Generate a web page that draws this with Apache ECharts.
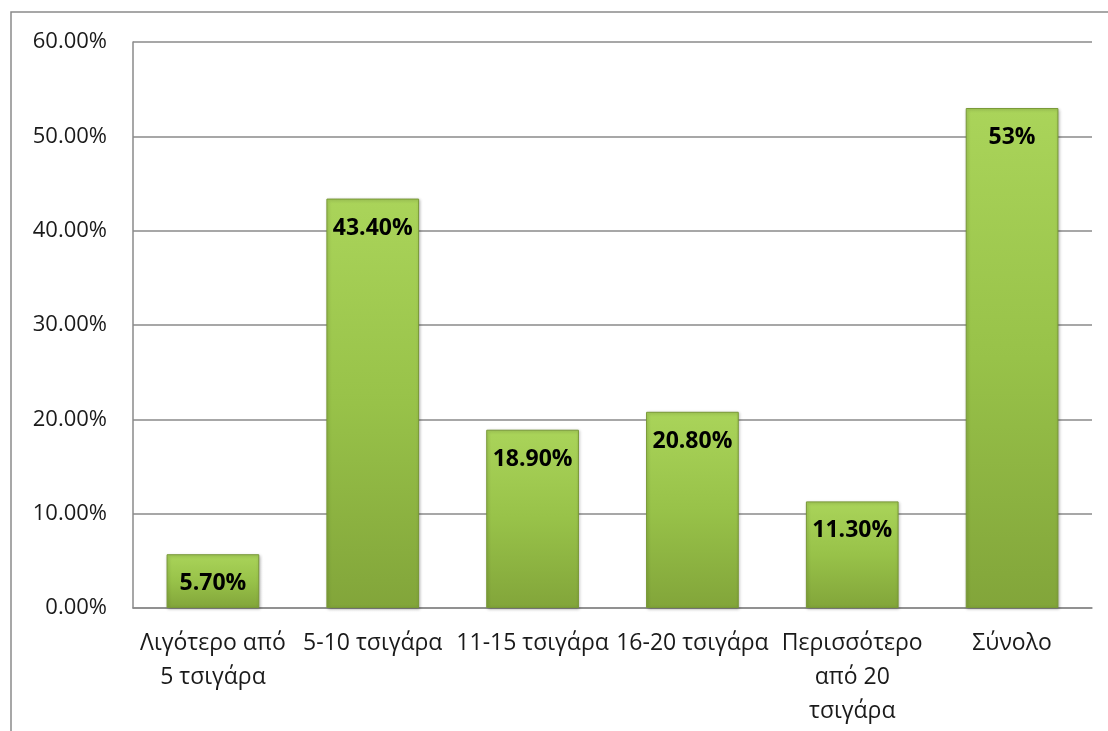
<!DOCTYPE html>
<html>
<head>
<meta charset="utf-8">
<script src="https://cdn.jsdelivr.net/npm/echarts@6/dist/echarts.min.js"></script>
<style>
  html, body { margin: 0; padding: 0; background: #ffffff; }
  #chart { width: 1108px; height: 731px; }
</style>
</head>
<body>
<div id="chart"></div>
<script>
// Cigarettes smoked per day — share of respondents
const categories = [
  'Λιγότερο από\n5 τσιγάρα',
  '5-10 τσιγάρα',
  '11-15 τσιγάρα',
  '16-20 τσιγάρα',
  'Περισσότερο\nαπό 20\nτσιγάρα',
  'Σύνολο'
];
const values = [5.7, 43.4, 18.9, 20.8, 11.3, 53];
const valueLabels = ['5.70%', '43.40%', '18.90%', '20.80%', '11.30%', '53%'];
const yTicks = [0, 10, 20, 30, 40, 50, 60];

const FONT = '"Open Sans", "Noto Sans", sans-serif';

const barFill = new echarts.graphic.LinearGradient(0, 0, 0, 1, [
  { offset: 0, color: '#aad45a' },
  { offset: 0.5, color: '#98c249' },
  { offset: 1, color: '#82a53a' }
]);

const chart = echarts.init(document.getElementById('chart'));
chart.setOption({
  animation: false,
  backgroundColor: '#ffffff',
  graphic: [{
    type: 'rect',
    shape: { x: 11, y: 12, width: 1200, height: 800 },
    style: { fill: 'none', stroke: '#8a8a8a', lineWidth: 1.5 },
    z: -1
  }],
  grid: { left: 133, right: 16, top: 42, bottom: 123 },
  xAxis: {
    type: 'category',
    data: categories,
    axisLine: { show: true, lineStyle: { color: '#8a8a8a', width: 1.5 } },
    axisTick: { show: false },
    axisLabel: {
      color: '#1a1a1a',
      fontFamily: FONT,
      fontSize: 23,
      lineHeight: 34,
      margin: 18,
      interval: 0
    }
  },
  yAxis: {
    type: 'value',
    min: yTicks[0],
    max: yTicks[yTicks.length - 1],
    interval: 10,
    axisLine: { show: true, lineStyle: { color: '#8a8a8a', width: 1.5 } },
    axisTick: { show: false },
    splitLine: { show: true, lineStyle: { color: '#8a8a8a', width: 1.5 } },
    axisLabel: {
      color: '#1a1a1a',
      fontFamily: FONT,
      fontSize: 22,
      margin: 26,
      formatter: v => v.toFixed(2) + '%'
    }
  },
  series: [{
    type: 'bar',
    data: values,
    barWidth: '58%',
    itemStyle: {
      color: barFill,
      borderColor: '#789836',
      borderWidth: 1,
      shadowColor: 'rgba(0,0,0,0.25)',
      shadowBlur: 3,
      shadowOffsetX: 1,
      shadowOffsetY: 1
    },
    label: {
      show: true,
      position: 'insideTop',
      distance: 18,
      color: '#000000',
      fontFamily: FONT,
      fontWeight: 'bold',
      fontSize: 23,
      formatter: p => valueLabels[p.dataIndex]
    }
  }]
});
</script>
</body>
</html>
